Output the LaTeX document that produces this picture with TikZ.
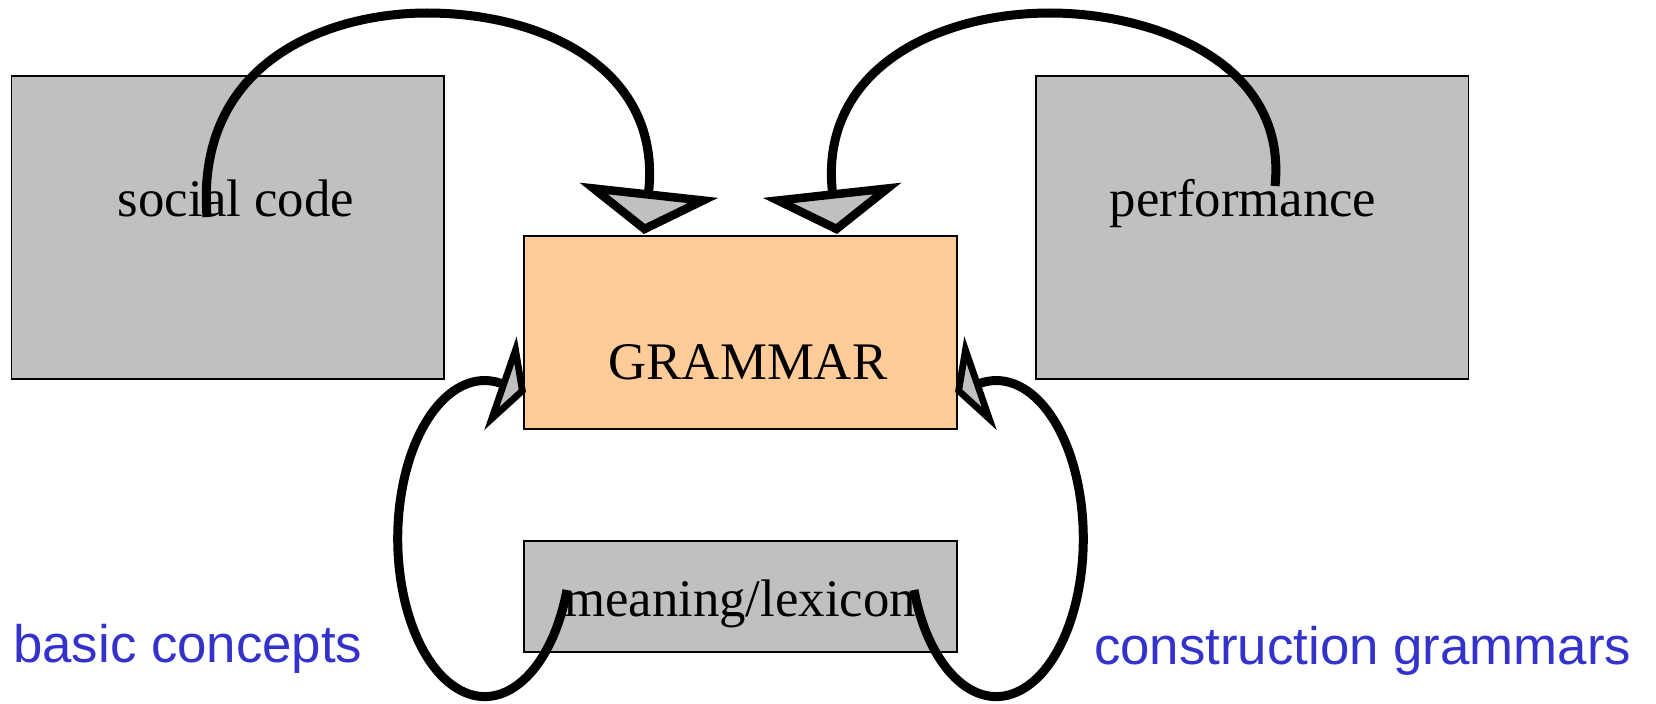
\documentclass[tikz,border=0pt]{standalone}
\usepackage{fontspec}
\setmainfont{Liberation Serif}
\newfontfamily\labelsans{Liberation Sans}
\usetikzlibrary{arrows.meta}
\definecolor{boxgray}{RGB}{192,192,192}
\definecolor{peach}{RGB}{255,204,153}
\definecolor{lblue}{RGB}{51,51,204}
\begin{document}
\begin{tikzpicture}[x=1bp,y=-1bp,
  box/.style={rectangle, draw=black, line width=1.5bp, fill=boxgray, inner sep=0pt, outer sep=0pt},
  lbl/.style={font=\fontsize{53}{60}\selectfont, inner sep=0pt, anchor=base},
  note/.style={font=\labelsans\fontsize{53}{60}\selectfont, text=lblue, inner sep=0pt, anchor=base west},
  conn/.style={draw=black, line width=9bp},
  bigtip/.style={-{Triangle[width=138bp,length=44bp,fill=boxgray,line width=8.5bp]}},
  smalltip/.style={-{Triangle[width=98bp,length=27bp,fill=boxgray,line width=8.5bp]}}]
\useasboundingbox (0,0) rectangle (1656,704);

% boxes
\node[box, minimum width=432.5bp, minimum height=303bp] (social) at (227.75,227.5) {};
\node[box, minimum width=432.5bp, minimum height=303bp] (perf) at (1252,227.5) {};
\node[box, fill=peach, minimum width=433bp, minimum height=193bp] (grammar) at (740.5,332.5) {};
\node[box, minimum width=433bp, minimum height=111bp] (meaning) at (740.5,596.5) {};

% texts
\node[lbl] (tsocial) at (236,216) {social code};
\node[lbl] (tperf) at (1243,216) {performance};
\node[lbl] (tgrammar) at (748,379) {GRAMMAR};
\node[lbl] (tmeaning) at (740,616) {meaning/lexicon};
\node[note] (basic) at (13,662) {basic concepts};
\node[note] (constr) at (1094,664) {construction grammars};

% connector end points
\coordinate (s1) at (207,217);
\coordinate (e1) at (644,234);
\coordinate (s2) at (1275,186);
\coordinate (e2) at (837,234);
\coordinate (s3) at (567,590);
\coordinate (e3) at (526,392);
\coordinate (s4) at (914,590);
\coordinate (e4) at (955,392);

% connectors
\draw[conn, bigtip] (s1) .. controls (195,60) and (330,13) .. (427,13)
   .. controls (545,13) and (662,70) .. (e1);
\draw[conn, bigtip] (s2) .. controls (1288,60) and (1150,13) .. (1050,13)
   .. controls (936,13) and (819,70) .. (e2);
\draw[conn, smalltip] (s3) arc[start angle=19, end angle=280, x radius=87, y radius=158] -- (e3);
\draw[conn, smalltip] (s4) arc[start angle=161, end angle=-100, x radius=87, y radius=158] -- (e4);
\end{tikzpicture}
\end{document}
